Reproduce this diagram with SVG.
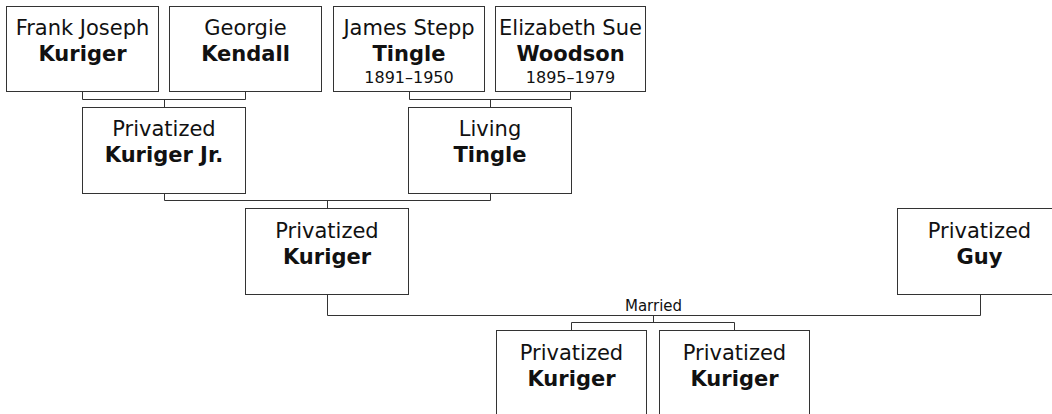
<svg xmlns="http://www.w3.org/2000/svg" width="1052" height="414" viewBox="0 0 1052 414">
<style>
.box{fill:#fff;stroke:#333;stroke-width:1}
.con{fill:none;stroke:#333;stroke-width:1}
text{font-family:"DejaVu Sans",Verdana,sans-serif;fill:#111;text-anchor:middle}
.n{font-size:21px}
.b{font-size:21px;font-weight:bold}
.d{font-size:16px}
.m{font-size:15px}
</style>
<rect width="1052" height="414" fill="#fff"/>
<g id="connectors">
<path class="con" d="M82.5,91.5V99.5H245.5V91.5M164.5,99.5V107.5"/>
<path class="con" d="M409.5,91.5V99.5H570.5V91.5M490.5,99.5V107.5"/>
<path class="con" d="M164.5,193.5V200.5H490.5V193.5M327.5,200.5V208.5"/>
<path class="con" d="M327.5,294.5V315.5H980.5V294.5"/>
<path class="con" d="M653.5,315.5V322.5M571.5,330.5V322.5H734.5V330.5"/>
<text class="m" x="653.5" y="310.5">Married</text>
</g>
<g id="frank">
<rect class="box" x="6.5" y="6.5" width="152" height="85"/>
<text class="n" x="82.5" y="35">Frank Joseph</text>
<text class="b" x="82.5" y="61">Kuriger</text>
</g>
<g id="georgie">
<rect class="box" x="169.5" y="6.5" width="152" height="85"/>
<text class="n" x="245.5" y="35">Georgie</text>
<text class="b" x="245.5" y="61">Kendall</text>
</g>
<g id="james">
<rect class="box" x="333.5" y="6.5" width="151" height="85"/>
<text class="n" x="409" y="35">James Stepp</text>
<text class="b" x="409" y="61">Tingle</text>
<text class="d" x="409" y="82.5">1891–1950</text>
</g>
<g id="elizabeth">
<rect class="box" x="495.5" y="6.5" width="150" height="85"/>
<text class="n" x="570.5" y="35">Elizabeth Sue</text>
<text class="b" x="570.5" y="61">Woodson</text>
<text class="d" x="570.5" y="82.5">1895–1979</text>
</g>
<g id="kurigerjr">
<rect class="box" x="82.5" y="107.5" width="163" height="86"/>
<text class="n" x="164" y="136">Privatized</text>
<text class="b" x="164" y="161.5">Kuriger Jr.</text>
</g>
<g id="livingtingle">
<rect class="box" x="408.5" y="107.5" width="163" height="86"/>
<text class="n" x="490" y="136">Living</text>
<text class="b" x="490" y="161.5">Tingle</text>
</g>
<g id="kuriger">
<rect class="box" x="245.5" y="208.5" width="163" height="86"/>
<text class="n" x="327" y="238">Privatized</text>
<text class="b" x="327" y="263.5">Kuriger</text>
</g>
<g id="guy">
<rect class="box" x="897.5" y="208.5" width="164" height="86"/>
<text class="n" x="979.5" y="238">Privatized</text>
<text class="b" x="979.5" y="263.5">Guy</text>
</g>
<g id="child1">
<rect class="box" x="496.5" y="330.5" width="150" height="86"/>
<text class="n" x="571.5" y="360">Privatized</text>
<text class="b" x="571.5" y="385.5">Kuriger</text>
</g>
<g id="child2">
<rect class="box" x="659.5" y="330.5" width="150" height="86"/>
<text class="n" x="734.5" y="360">Privatized</text>
<text class="b" x="734.5" y="385.5">Kuriger</text>
</g>
</svg>
